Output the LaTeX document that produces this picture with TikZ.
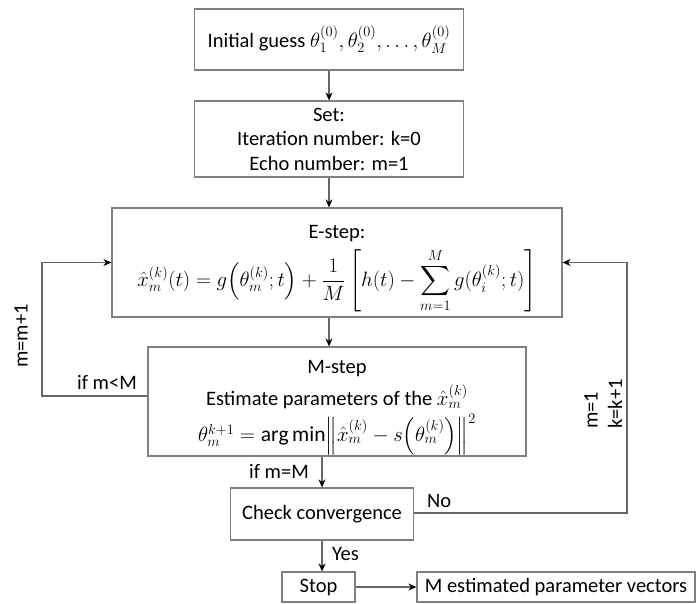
\documentclass[tikz,border=0pt]{standalone}
\usepackage{amsmath}
\usepackage{fontspec}
\setmainfont{Carlito}
\usetikzlibrary{arrows.meta}

\tikzset{
  blk/.style={draw=black!50, line width=1.2pt, align=center, inner sep=0pt,
    font=\fontsize{20.5}{24.5}\selectfont},
  lnk/.style={draw=black!60, line width=1.2pt, -{Stealth[length=8pt,width=7pt,color=black]}},
  lbl/.style={font=\fontsize{20.5}{24.5}\selectfont, inner sep=0pt}
}
\newcommand{\eqsize}{\fontsize{21.5}{24.5}\selectfont}

\begin{document}
\begin{tikzpicture}[x=1pt, y=-1pt]
	\useasboundingbox (0,0) rectangle (696,604);
	\node[blk, minimum width=269pt, minimum height=61pt] (init) at (329,39.5)
		{Initial guess $\theta_1^{(0)},\theta_2^{(0)},\dots,\theta_M^{(0)}$};
	\node[blk, minimum width=269pt, minimum height=76pt] (set) at (329,139)
		{Set:\\Iteration number: k=0\\Echo number: m=1};
	\node[blk, minimum width=450pt, minimum height=109pt] (estep) at (337,262.5)
		{\rule{0pt}{26pt}E-step:\\[6pt] {\eqsize$\displaystyle \hat{x}_m^{(k)}(t)=g\Bigl(\theta_m^{(k)};t\Bigr)+\frac{1}{M}\left[h(t)-\sum_{m=1}^{M}g(\theta_i^{(k)};t)\right]$}};
	\node[blk, minimum width=378pt, minimum height=109pt] (mstep) at (337,401.5)
		{\rule{0pt}{26pt}M-step\\[6pt] Estimate parameters of the $\hat{x}_m^{(k)}$\\[4pt]
		{\eqsize$\theta_m^{k+1}=\arg\min\Bigl\|\hat{x}_m^{(k)}-s\Bigl(\theta_m^{(k)}\Bigr)\Bigr\|^2$}};
	\node[blk, minimum width=183pt, minimum height=52pt] (check) at (322,514) {Check convergence};
	\node[blk, minimum width=73pt, minimum height=30pt] (stop) at (318.5,587) {Stop};
	\node[blk, minimum width=278pt, minimum height=30pt] (out) at (556,587) {M estimated parameter vectors};

	\coordinate (lft) at (42,396);
	\coordinate (rgt) at (627,513);

	\draw[lnk] (init) -- (set);
	\draw[lnk] (set) -- (set.south |- estep.north);
	\draw[lnk] (estep.south -| set.south) -- (mstep.north -| set.south);
	\draw[lnk] (check.north |- mstep.south) -- (check.north);
	\draw[lnk] (check.south) -- (check.south |- stop.north);
	\draw[lnk] (stop) -- (out);
	\draw[lnk] (mstep.west |- lft) -- (lft) |- (estep.west);
	\draw[lnk] (check.east |- rgt) -- (rgt) |- (estep.east);

	\node[lbl, anchor=base east] (less) at (137,389) {if m<M};
	\node[lbl, rotate=90] (mnext) at (21,336) {m=m+1};
	\node[lbl, anchor=base east] (equal) at (309,478) {if m=M};
	\node[lbl, anchor=base west] (no) at (427,507) {No};
	\node[lbl, anchor=base west] (yes) at (332,560) {Yes};
	\node[lbl, rotate=90, anchor=west] (mone) at (591,429) {m=1};
	\node[lbl, rotate=90, anchor=west] (knext) at (615,429) {k=k+1};
\end{tikzpicture}
\end{document}
